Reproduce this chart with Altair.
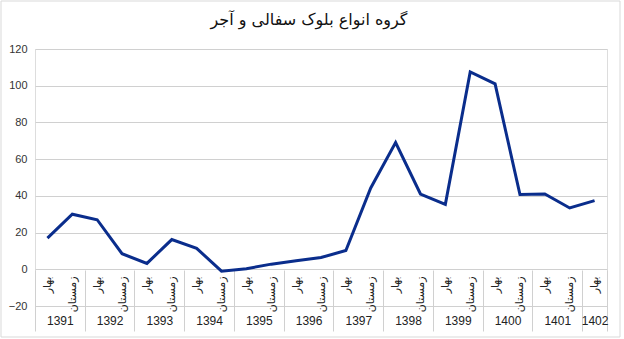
import json
import altair as alt
import pandas as pd

title_text = "گروه  انواع بلوک سفالی و آجر"
years = ["1391", "1392", "1393", "1394", "1395", "1396", "1397", "1398", "1399", "1400", "1401", "1402"]
season_names = ["بهار", "زمستان"]
# 23 periods: each year has بهار and زمستان, 1402 only بهار
seasons = [season_names[i % 2] for i in range(23)]
values = [17, 30, 27, 8.5, 3.2, 16.2, 11.4, -1, 0.3, 2.8, 4.6, 6.4, 10.2,
          44.3, 69, 41, 35.4, 107.5, 101, 40.7, 41, 33.4, 37.4]
y_ticks = [-20, 0, 20, 40, 60, 80, 100, 120]

df = pd.DataFrame({"pos": [i + 0.5 for i in range(len(values))], "value": values, "season": seasons})

n = len(values)
season_positions = [i + 0.5 for i in range(n)]
boundaries = list(range(0, n, 2)) + [n]
year_positions = [(2 * i + n) / 2 if 2 * i + 2 > n else 2 * i + 1 for i in range(len(years))]

season_expr = json.dumps(seasons, ensure_ascii=False) + "[floor(datum.value)]"
year_expr = json.dumps(years, ensure_ascii=False) + "[floor(datum.value / 2)]"

xscale = alt.Scale(domain=[0, n], nice=False, zero=False)
yscale = alt.Scale(domain=[-20, 120], nice=False)

NUM_FONT = "Liberation Sans"
FA_FONT = "DejaVu Sans"
GRID = "#d0d0d0"

y_axis = alt.Axis(values=y_ticks, grid=True, gridColor=GRID, gridWidth=1, ticks=False, domain=False,
                  labelFont=NUM_FONT, labelFontSize=11, labelColor="#333333", labelPadding=8, title=None)

base = alt.Chart(df)

line = base.mark_line(color="#0a2d8c", strokeWidth=3, strokeJoin="miter").encode(
    x=alt.X("pos:Q", scale=xscale,
            axis=alt.Axis(orient="bottom", offset=-36, values=season_positions, labelExpr=season_expr,
                          labelAngle=270, labelFont=FA_FONT, labelFontSize=11, labelColor="#222222",
                          labelPadding=6, ticks=False, domain=False, grid=False, title=None,
                          labelOverlap=False, labelBound=False, labelFlush=False)),
    y=alt.Y("value:Q", scale=yscale, axis=y_axis),
)

bounds = base.mark_point(opacity=0).encode(
    x=alt.X("pos:Q", scale=xscale,
            axis=alt.Axis(orient="bottom", offset=-36, values=boundaries, labels=False, ticks=True,
                          tickSize=61, tickColor=GRID, tickWidth=1, domain=False, grid=False, title=None)),
    y=alt.Y("value:Q", scale=yscale, axis=y_axis),
)

year_axis = base.mark_point(opacity=0).encode(
    x=alt.X("pos:Q", scale=xscale,
            axis=alt.Axis(orient="bottom", offset=0, values=year_positions, labelExpr=year_expr,
                          labelFont=NUM_FONT, labelFontSize=12, labelColor="#222222", labelPadding=9,
                          ticks=False, domain=False, grid=False, title=None, labelAngle=0,
                          labelOverlap=False, labelBound=False, labelFlush=False)),
    y=alt.Y("value:Q", scale=yscale, axis=y_axis),
)

# light frame around the whole chart (decoration)
frame = alt.Chart(pd.DataFrame({"a": [0]})).mark_rect(
    fill=None, stroke="#d9d9d9", strokeWidth=1, clip=False
).encode(x=alt.value(-34), x2=alt.value(585), y=alt.value(-48), y2=alt.value(288))

chart = alt.layer(line, bounds, year_axis, frame).resolve_axis(x="independent").properties(
    width=572,
    height=257,
    autosize=alt.AutoSizeParams(type="none"),
    padding={"left": 35, "top": 49, "right": 17, "bottom": 33},
    title=alt.TitleParams(title_text, font=FA_FONT, fontSize=16, fontWeight="normal", color="#111111",
                          anchor="middle", offset=-27, dx=-12),
).configure_view(strokeWidth=0).configure(background="white")

chart.save("out.html", embed_options={"renderer": "svg", "actions": False})
